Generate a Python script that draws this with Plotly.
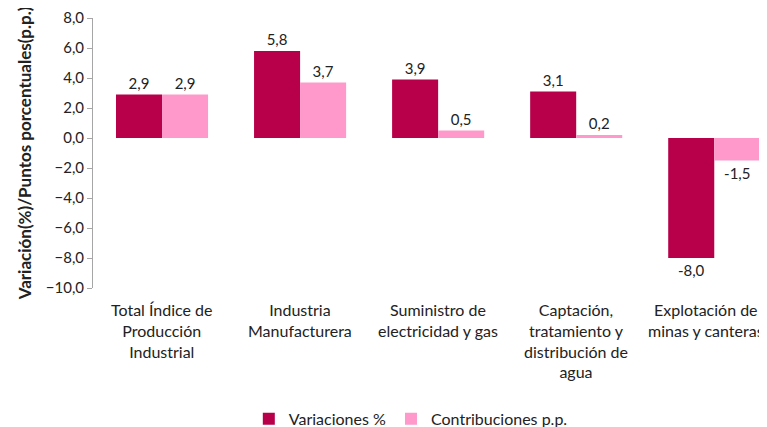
import plotly.graph_objects as go

# Data
CATEGORIES = [
    "Total Índice de<br>Producción<br>Industrial",
    "Industria<br>Manufacturera",
    "Suministro de<br>electricidad y gas",
    "Captación,<br>tratamiento y<br>distribución de<br>agua",
    "Explotación de<br>minas y canteras",
]
VARIACIONES = [2.9, 5.8, 3.9, 3.1, -8.0]
CONTRIBUCIONES = [2.9, 3.7, 0.5, 0.2, -1.5]
Y_TICKS = [8, 6, 4, 2, 0, -2, -4, -6, -8, -10]

COL_VAR = "#B8004A"
COL_CON = "#FF99CC"
FONT = "Lato"
TXT = "#222222"
FS = 15

x_idx = list(range(len(CATEGORIES)))


def fmt(v):
    return f"{v:.1f}".replace(".", ",")


fig = go.Figure()
fig.add_trace(go.Bar(
    x=x_idx, y=VARIACIONES, name="Variaciones %",
    marker=dict(color=COL_VAR, line=dict(width=0)),
    text=[fmt(v) for v in VARIACIONES], textposition="outside",
    textfont=dict(size=FS, color=TXT, family=FONT), cliponaxis=False,
))
fig.add_trace(go.Bar(
    x=x_idx, y=CONTRIBUCIONES, name="Contribuciones p.p.",
    marker=dict(color=COL_CON, line=dict(width=0)),
    text=[fmt(v) for v in CONTRIBUCIONES], textposition="outside",
    textfont=dict(size=FS, color=TXT, family=FONT), cliponaxis=False,
))

# category labels under the plot (last one nudged left so it stays in view)
for i, lab in enumerate(CATEGORIES):
    fig.add_annotation(
        x=i, xref="x", y=0, yref="paper", yanchor="top", yshift=-10,
        xshift=-8 if i == len(CATEGORIES) - 1 else 0,
        text=lab, showarrow=False, align="center",
        font=dict(size=16, family=FONT, color=TXT),
    )

x_range = [-0.5, 4.44]
y_range = [-10, 8]

fig.update_layout(
    width=767, height=427,
    paper_bgcolor="white", plot_bgcolor="white",
    font=dict(family=FONT, size=FS, color=TXT),
    separators=",.",
    barmode="group", bargap=0.333, bargroupgap=0,
    margin=dict(l=85, r=0, t=10, b=147, autoexpand=False),
    showlegend=True,
    legend=dict(orientation="h", x=0.466, xanchor="center", y=-0.485, yanchor="middle",
                font=dict(size=16, family=FONT, color=TXT), traceorder="normal",
                itemwidth=30),
    xaxis=dict(
        range=x_range, showticklabels=False,
        showline=False, ticks="", showgrid=False, zeroline=False, automargin=False,
    ),
    xaxis2=dict(
        overlaying="x", anchor="free", position=10 / 18,
        range=x_range, tickmode="array", tickvals=[-0.5, 0.5, 1.5, 2.5, 3.5],
        showticklabels=False, ticks="outside", ticklen=4, tickcolor="#A6A6A6",
        showline=True, linecolor="#A6A6A6", linewidth=1, showgrid=False, zeroline=False,
    ),
    yaxis=dict(
        range=y_range, tickmode="array", tickvals=Y_TICKS,
        tickformat=".1f", showgrid=False, zeroline=False, automargin=False,
        showline=True, linecolor="#A6A6A6", linewidth=1,
        ticks="outside", ticklen=5, tickcolor="#A6A6A6",
        tickfont=dict(size=FS, family=FONT, color=TXT),
        title=dict(text="<b>Variación(%)/Puntos porcentuales(p.p.)</b>",
                   font=dict(size=17, family=FONT, color=TXT), standoff=9),
    ),
)

fig.write_html("out.html")
